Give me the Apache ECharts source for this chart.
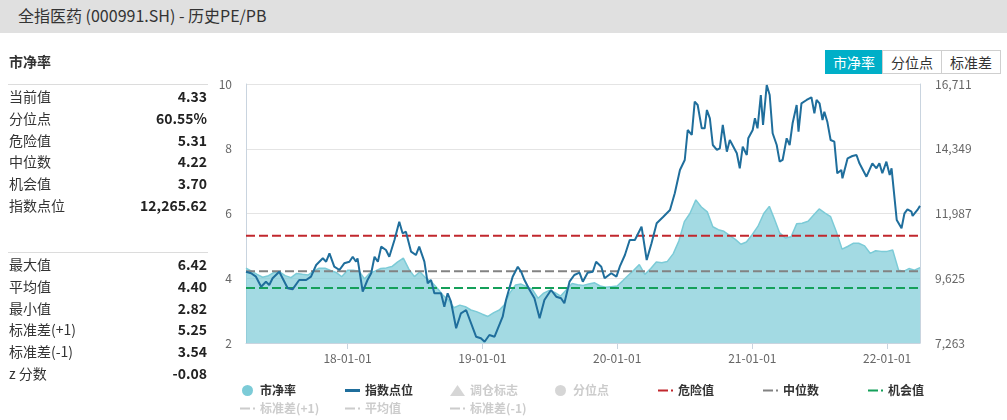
<!DOCTYPE html>
<html><head><meta charset="utf-8">
<script src="https://cdn.jsdelivr.net/npm/echarts@6/dist/echarts.min.js"></script>
<style>
html,body{margin:0;padding:0;width:1007px;height:420px;overflow:hidden;background:#fff;font-family:"Noto Sans CJK SC","Noto Sans",sans-serif;}
#chart{position:absolute;left:0;top:0;width:1007px;height:420px;}
#header{position:absolute;left:0;top:0;width:1007px;height:33px;background:#e0e0e0;z-index:2;}
#title{position:absolute;left:18px;top:4px;font-size:16px;line-height:22px;color:#333;white-space:nowrap;}
#panelTitle{position:absolute;left:9px;top:51px;font-size:14px;line-height:20px;font-weight:bold;color:#333;z-index:2;}
.sep{position:absolute;left:8px;width:200px;height:1px;background:#dcdcdc;z-index:2;}
.row{position:absolute;left:9px;width:198px;height:20px;line-height:20px;font-size:14px;color:#333;z-index:2;white-space:nowrap;}
.row .v{position:absolute;right:0;top:0;font-weight:bold;color:#222;}
#btns{position:absolute;left:825px;top:50px;height:24px;z-index:2;display:flex;}
.btn{box-sizing:border-box;height:24px;line-height:22px;font-size:14px;text-align:center;border:1px solid #cfcfcf;color:#333;background:#fff;}
.btn.on{background:#00afc8;border-color:#00afc8;color:#fff;}
</style></head>
<body>
<div id="chart"></div>
<div id="header"><div id="title">全指医药 (000991.SH) - 历史PE/PB</div></div>
<div id="panelTitle">市净率</div>
<div class="sep" style="top:84px"></div>
<div class="sep" style="top:252px"></div>
<div id="btns"></div>
<script>
// ---- data ----
const pbDates = [
'2017-04-01','2017-04-16','2017-05-01','2017-05-16','2017-06-01','2017-06-16','2017-07-01','2017-07-16','2017-08-01','2017-08-16','2017-09-01','2017-09-16','2017-10-01','2017-10-16','2017-11-01','2017-11-16','2017-12-01','2017-12-16',
'2018-01-01','2018-01-16','2018-02-01','2018-02-16','2018-03-01','2018-03-16','2018-04-01','2018-04-16','2018-05-01','2018-05-16','2018-06-01','2018-06-16','2018-07-01','2018-07-16','2018-08-01','2018-08-16','2018-09-01','2018-09-16','2018-10-01','2018-10-16','2018-11-01','2018-11-16','2018-12-01','2018-12-16',
'2019-01-01','2019-01-16','2019-02-01','2019-02-16','2019-03-01','2019-03-16','2019-04-01','2019-04-16','2019-05-01','2019-05-16','2019-06-01','2019-06-16','2019-07-01','2019-07-16','2019-08-01','2019-08-16','2019-09-01','2019-09-16','2019-10-01','2019-10-16','2019-11-01','2019-11-16','2019-12-01','2019-12-16',
'2020-01-01','2020-01-16','2020-02-01','2020-02-16','2020-03-01','2020-03-16','2020-04-01','2020-04-16','2020-05-01','2020-05-16','2020-06-01','2020-06-16','2020-07-01','2020-07-16','2020-08-01','2020-08-16','2020-09-01','2020-09-16','2020-10-01','2020-10-16','2020-11-01','2020-11-16','2020-12-01','2020-12-16',
'2021-01-01','2021-01-16','2021-02-01','2021-02-16','2021-03-01','2021-03-16','2021-04-01','2021-04-16','2021-05-01','2021-05-16','2021-06-01','2021-06-16','2021-07-01','2021-07-16','2021-08-01','2021-08-16','2021-09-01','2021-09-16','2021-10-01','2021-10-16','2021-11-01','2021-11-16','2021-12-01','2021-12-16',
'2022-01-01','2022-01-16','2022-02-01','2022-02-16','2022-03-01','2022-03-16','2022-03-31'
];
const pbValues = [
4.31,4.22,4.12,4.03,4.08,4.18,4.20,4.08,4.02,4.15,4.12,4.10,4.22,4.31,4.31,4.24,4.18,4.05,
4.25,4.25,4.22,3.98,4.15,4.22,4.30,4.32,4.36,4.50,4.62,4.28,4.05,4.20,4.00,3.89,3.69,3.48,3.33,3.09,3.17,3.12,3.02,2.97,
2.89,2.82,2.94,3.02,3.17,3.54,3.79,3.82,3.74,3.66,3.38,3.54,3.62,3.56,3.45,3.64,3.84,3.80,3.78,3.82,3.86,3.76,3.72,3.74,
3.76,3.92,4.10,4.26,4.42,4.12,4.30,4.50,4.48,4.52,4.76,5.15,5.75,6.00,6.42,6.20,6.05,5.59,5.50,5.45,5.32,5.20,5.05,5.12,
5.35,5.60,6.00,6.22,5.85,5.40,5.24,5.28,5.68,5.70,5.76,5.95,6.14,6.02,5.90,5.45,4.90,4.98,5.08,5.08,5.00,4.77,4.85,4.83,
4.83,4.87,4.25,4.22,4.30,4.25,4.33
];
const indexDates = [
'2017-04-01','2017-04-15','2017-04-28','2017-05-12','2017-05-25','2017-06-03','2017-06-12','2017-06-30','2017-07-23','2017-08-05','2017-08-23','2017-09-11','2017-09-24','2017-10-08','2017-10-26','2017-11-04','2017-11-13','2017-11-26','2017-12-10','2017-12-23',
'2018-01-06','2018-01-15','2018-01-24','2018-01-28','2018-02-11','2018-02-24','2018-03-06','2018-03-15','2018-03-24','2018-04-02','2018-04-15','2018-04-24','2018-05-08','2018-05-21','2018-05-30','2018-06-08','2018-06-22','2018-07-05','2018-07-14','2018-07-28','2018-08-06','2018-08-15','2018-08-24','2018-09-11','2018-09-20','2018-09-29','2018-10-08','2018-10-22','2018-11-04','2018-11-18','2018-12-15','2018-12-28',
'2019-01-07','2019-01-20','2019-02-03','2019-02-25','2019-03-06','2019-03-24','2019-04-07','2019-04-16','2019-04-25','2019-05-09','2019-05-22','2019-06-05','2019-06-18','2019-07-06','2019-07-20','2019-08-02','2019-08-11','2019-08-25','2019-09-07','2019-09-21','2019-09-30','2019-10-13','2019-10-27','2019-11-05','2019-11-19','2019-11-28','2019-12-16','2019-12-30',
'2020-01-08','2020-01-22','2020-02-04','2020-02-18','2020-03-07','2020-03-21','2020-04-03','2020-04-17','2020-05-05','2020-05-23','2020-06-05','2020-06-19','2020-07-02','2020-07-10','2020-07-21','2020-07-29','2020-08-06','2020-08-17','2020-08-25','2020-08-31','2020-09-08','2020-09-16','2020-09-27','2020-10-05','2020-10-13','2020-10-24','2020-11-01','2020-11-20','2020-11-28','2020-12-06','2020-12-17','2020-12-21',
'2021-01-02','2021-01-08','2021-01-15','2021-01-24','2021-01-30','2021-02-09','2021-02-17','2021-02-25','2021-03-08','2021-03-16','2021-03-24','2021-04-04','2021-04-12','2021-04-20','2021-05-01','2021-05-06','2021-05-14','2021-05-28','2021-06-10','2021-06-18','2021-06-24','2021-07-02','2021-07-10','2021-07-15','2021-07-23','2021-08-01','2021-08-06','2021-08-11','2021-08-19','2021-08-30','2021-09-02','2021-09-16','2021-09-29','2021-10-10','2021-10-18','2021-11-06','2021-11-22','2021-12-03','2021-12-11','2021-12-19','2021-12-30',
'2022-01-08','2022-01-13','2022-01-27','2022-02-09','2022-02-17','2022-02-25','2022-03-08','2022-03-11','2022-03-24','2022-03-31'
];
const indexValues = [
9864,9806,9682,9317,9499,9379,9623,9864,9258,9222,9561,9561,9682,10108,10353,10229,10535,10046,9926,10170,
10229,10411,10229,10353,9134,9561,9806,10411,10229,10776,10656,10411,11020,11688,11265,11323,10594,10473,10776,10229,9441,9561,9076,9076,8587,9076,8770,7799,8346,8467,7493,7434,
7310,7555,7493,8222,8832,9682,10046,9864,9561,9196,8894,8164,8832,9196,8952,8894,8711,9499,9744,9828,9499,9828,9864,10229,10046,9623,9806,9682,
10046,10473,11020,11020,11506,10291,10900,11630,11870,12115,12724,13574,13939,15033,14851,16066,15945,15095,15095,15763,15460,14486,14304,14366,15216,14242,14668,14183,13636,14424,14121,14730,
15033,15460,15095,16310,15216,16675,16310,14913,14486,13877,13939,14730,14486,15278,15945,14971,16007,16128,16226,15642,16128,16007,15398,15701,15336,14668,14730,14606,13454,13574,13271,14001,14085,14121,13818,13330,13818,13636,13818,13454,13877,
13392,13636,11750,11447,11994,12140,12053,11896,12115,12265.62
];
const leftTicks = [2, 4, 6, 8, 10];
const rightTicks = [7263, 9625, 11987, 14349, 16711];
const dangerValue = 5.31, medianValue = 4.22, chanceValue = 3.70;
const stdUpValue = 5.25, meanValue = 4.40, stdDownValue = 3.54;

const statLabels1 = ['当前值','分位点','危险值','中位数','机会值','指数点位'];
const statValues1 = ['4.33','60.55%','5.31','4.22','3.70','12,265.62'];
const statLabels2 = ['最大值','平均值','最小值','标准差(+1)','标准差(-1)','z 分数'];
const statValues2 = ['6.42','4.40','2.82','5.25','3.54','-0.08'];
const buttonLabels = ['市净率','分位点','标准差'];

// ---- side panel ----
function addRows(labels, values, top0) {
  labels.forEach((l, i) => {
    const r = document.createElement('div');
    r.className = 'row';
    r.style.top = (top0 + i * 21.8) + 'px';
    r.innerHTML = '<span>' + l + '</span><span class="v">' + values[i] + '</span>';
    document.body.appendChild(r);
  });
}
addRows(statLabels1, statValues1, 86);
addRows(statLabels2, statValues2, 254);
const bw = [58, 60, 60];
buttonLabels.forEach((b, i) => {
  const d = document.createElement('div');
  d.className = 'btn' + (i === 0 ? ' on' : '');
  d.style.width = bw[i] + 'px';
  if (i > 0) d.style.marginLeft = '-1px';
  d.textContent = b;
  document.getElementById('btns').appendChild(d);
});

// ---- chart ----
const chart = echarts.init(document.getElementById('chart'), null, {renderer: 'canvas'});
const first = pbDates[0], last = pbDates[pbDates.length - 1];
const flat = v => [[first, v], [last, v]];
const dash = [9, 4];
const axisLineColor = '#c9d4df';
const fontFam = '"Noto Sans CJK SC","Noto Sans",sans-serif';
const dashIcon = 'path://M0,0H10V2H0ZM13,0H15V2H13Z';
const barIcon = 'path://M0,0H15V3H0Z';
function refLine(name, v, color, z) {
  return {name: name, type: 'line', data: flat(v), symbol: 'none', silent: true, z: z,
    itemStyle: {color: color}, lineStyle: {color: color, width: 2, type: dash}};
}
chart.setOption({
  animation: false,
  textStyle: {fontFamily: fontFam},
  grid: {left: 246, right: 87, top: 84, bottom: 77},
  xAxis: {
    type: 'time', min: first, max: last, splitNumber: 5,
    axisLine: {show: true, lineStyle: {color: axisLineColor}},
    axisTick: {show: true, length: 6, lineStyle: {color: axisLineColor}},
    axisLabel: {formatter: '{yy}-{MM}-{dd}', color: '#666', fontSize: 12, margin: 9},
    splitLine: {show: false}
  },
  yAxis: [{
    type: 'value', min: leftTicks[0], max: leftTicks[leftTicks.length - 1], interval: leftTicks[1] - leftTicks[0],
    axisLine: {show: true, lineStyle: {color: axisLineColor}},
    axisTick: {show: false},
    axisLabel: {color: '#666', fontSize: 12, margin: 14},
    splitLine: {show: true, lineStyle: {color: '#e4e4e4'}}
  }, {
    type: 'value', min: rightTicks[0], max: rightTicks[rightTicks.length - 1], interval: rightTicks[1] - rightTicks[0],
    axisLine: {show: true, lineStyle: {color: axisLineColor}},
    axisTick: {show: false},
    axisLabel: {color: '#666', fontSize: 12, margin: 15, formatter: v => Math.round(v).toLocaleString('en-US')},
    splitLine: {show: false}
  }],
  legend: {
    left: 235, top: 379, width: 740, itemWidth: 15, itemHeight: 11, itemGap: 5,
    inactiveColor: '#cccccc', symbolKeepAspect: true,
    textStyle: {fontSize: 12, fontWeight: 'bold', color: '#333', width: 80, lineHeight: 13},
    data: [
      {name: '市净率', icon: 'circle'},
      {name: '指数点位', icon: barIcon},
      {name: '调仓标志', icon: 'triangle'},
      {name: '分位点', icon: 'circle'},
      {name: '危险值', icon: dashIcon},
      {name: '中位数', icon: dashIcon},
      {name: '机会值', icon: dashIcon},
      {name: '标准差(+1)', icon: dashIcon},
      {name: '平均值', icon: dashIcon},
      {name: '标准差(-1)', icon: dashIcon}
    ],
    selected: {'调仓标志': false, '分位点': false, '标准差(+1)': false, '平均值': false, '标准差(-1)': false}
  },
  series: [
    {name: '市净率', type: 'line', data: pbDates.map((d, i) => [d, pbValues[i]]), symbol: 'none', z: 1,
      itemStyle: {color: '#7ccbd7'}, lineStyle: {color: '#7ccbd7', width: 1.5},
      areaStyle: {color: '#7ccbd7', opacity: 0.7}},
    refLine('危险值', dangerValue, '#c1272d', 3),
    refLine('中位数', medianValue, '#828282', 3),
    refLine('机会值', chanceValue, '#15a05a', 3),
    {name: '指数点位', type: 'line', yAxisIndex: 1, data: indexDates.map((d, i) => [d, indexValues[i]]), symbol: 'none', z: 5,
      itemStyle: {color: '#1f6e9c'}, lineStyle: {color: '#1f6e9c', width: 2}},
    {name: '调仓标志', type: 'scatter', symbol: 'triangle', data: [], itemStyle: {color: '#999'}},
    {name: '分位点', type: 'scatter', symbol: 'circle', data: [], itemStyle: {color: '#999'}},
    refLine('标准差(+1)', stdUpValue, '#e39d2f', 2),
    refLine('平均值', meanValue, '#5470c6', 2),
    refLine('标准差(-1)', stdDownValue, '#9a60b4', 2)
  ]
});
</script>
</body></html>
